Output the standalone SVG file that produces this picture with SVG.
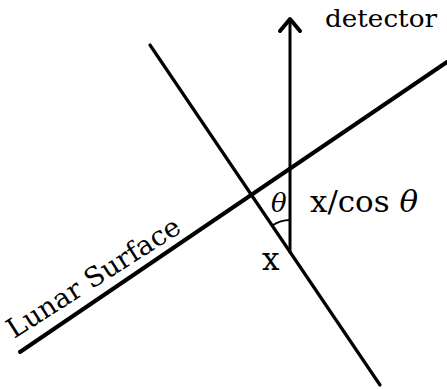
<svg xmlns="http://www.w3.org/2000/svg" width="447" height="389" viewBox="0 0 447 389">
<style>
.ln{stroke:#000;fill:none;stroke-linecap:round;stroke-linejoin:round}
.t{font-family:"DejaVu Serif","Liberation Serif",serif;fill:#000}
</style>
<rect width="447" height="389" fill="#fff"/>
<g id="connectors">
<line id="surface" class="ln" x1="20" y1="352" x2="447" y2="62" stroke-width="4"/>
<line id="slant" class="ln" x1="150" y1="45" x2="380" y2="385" stroke-width="3.2"/>
<line id="vertical" class="ln" x1="290" y1="252" x2="290" y2="20" stroke-width="3"/>
<path id="arrowhead" class="ln" d="M280,31 L290,19 L300,31" stroke-width="4"/>
<path id="angle-arc" class="ln" d="M272.3,225.5 A32,32 0 0 1 290,220" stroke-width="2"/>
</g>
<g id="labels">
<text id="detector" class="t" x="325" y="27" font-size="25" textLength="112" lengthAdjust="spacingAndGlyphs">detector</text>
<text id="xcos" class="t" x="310" y="212" font-size="29" textLength="108" lengthAdjust="spacingAndGlyphs">x/cos <tspan font-style="italic">θ</tspan></text>
<text id="theta" class="t" x="271" y="212" font-size="26" font-style="italic">θ</text>
<text id="xlabel" class="t" x="262" y="270" font-size="31">x</text>
<text id="lunar" class="t" font-size="27" transform="translate(14,339) rotate(-32.5)" textLength="200" lengthAdjust="spacingAndGlyphs">Lunar Surface</text>
</g>
</svg>
